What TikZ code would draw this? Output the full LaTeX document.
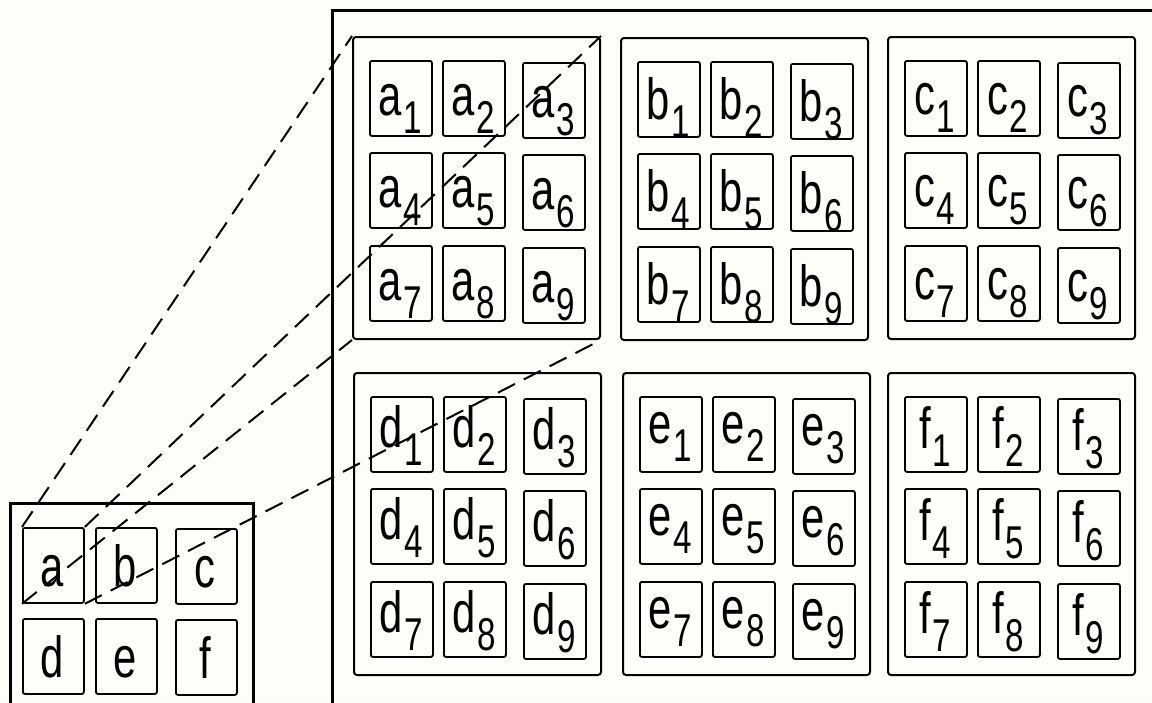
\documentclass[tikz,border=0pt]{standalone}
\usepackage{fontspec}
\setmainfont{Liberation Sans}
\usepackage{graphicx}
\definecolor{bg}{HTML}{FDFDF9}
\tikzset{
  cell/.style={draw, line width=1.8pt, rounded corners=2pt, minimum width=62pt, minimum height=75pt, inner sep=0pt, anchor=north west},
  grp/.style={draw, line width=2pt, rounded corners=3pt, minimum width=247pt, minimum height=302pt, inner sep=0pt, anchor=north west},
  frame/.style={draw, line width=2.6pt, inner sep=0pt, anchor=north west},
  proj/.style={dash pattern=on 19pt off 10pt, line width=2pt},
  lab/.style={anchor=base, inner sep=0pt}
}
\newcommand\bigtxt[1]{\scalebox{0.72}[1]{\fontsize{58}{58}\selectfont #1}}
\newcommand\lbl[2]{\scalebox{0.72}[1]{\fontsize{58}{58}\selectfont #1\kern2pt\raisebox{-18pt}{\fontsize{46}{46}\selectfont #2}}}
\begin{document}
\begin{tikzpicture}[x=1pt,y=-1pt]
\useasboundingbox (0,0) rectangle (1152,702);
\fill[bg] (0,0) rectangle (1152,702);
\clip (0,0) rectangle (1152,702);
% left frame and container
\node[frame, minimum width=243pt, minimum height=240pt] (leftframe) at (9,502) {};
\node[frame, minimum width=860pt, minimum height=720pt] (cont) at (331,9) {};
% groups
\foreach \L/\gx/\gy/\bl in {a/352/36/55, b/620/37/58, c/887/36/54, d/353/372/51, e/622/372/47, f/887/372/52}{
  \node[grp] (g\L) at (\gx,\gy) {};
  \foreach \i/\dx/\dy in {1/17/24, 2/90/24, 3/170/26, 4/17/116, 5/90/116, 6/170/118, 7/17/209, 8/90/209, 9/170/211}{
    \node[cell] (\L\i) at (\gx+\dx,\gy+\dy) {};
    \node[lab] (t\L\i) at (\gx+\dx+31,\gy+\dy+\bl) {\lbl{\L}{\i}};
  }
}
% left cells
\foreach \L/\x/\y in {a/22/527, b/95/527, c/175/528, d/22/618, e/95/618, f/175/619}{
  \node[cell, minimum width=61pt] (s\L) at (\x,\y) {};
  \node[lab] (ts\L) at (\x+30,\y+59) {\bigtxt{\L}};
}
% projection lines
\draw[proj] (sa.north west) -- (ga.north west);
\draw[proj] (sa.north east) -- (ga.north east);
\draw[proj] (sa.south west) -- (ga.south west);
\draw[proj] (sa.south east) -- (ga.south east);
\end{tikzpicture}
\end{document}
